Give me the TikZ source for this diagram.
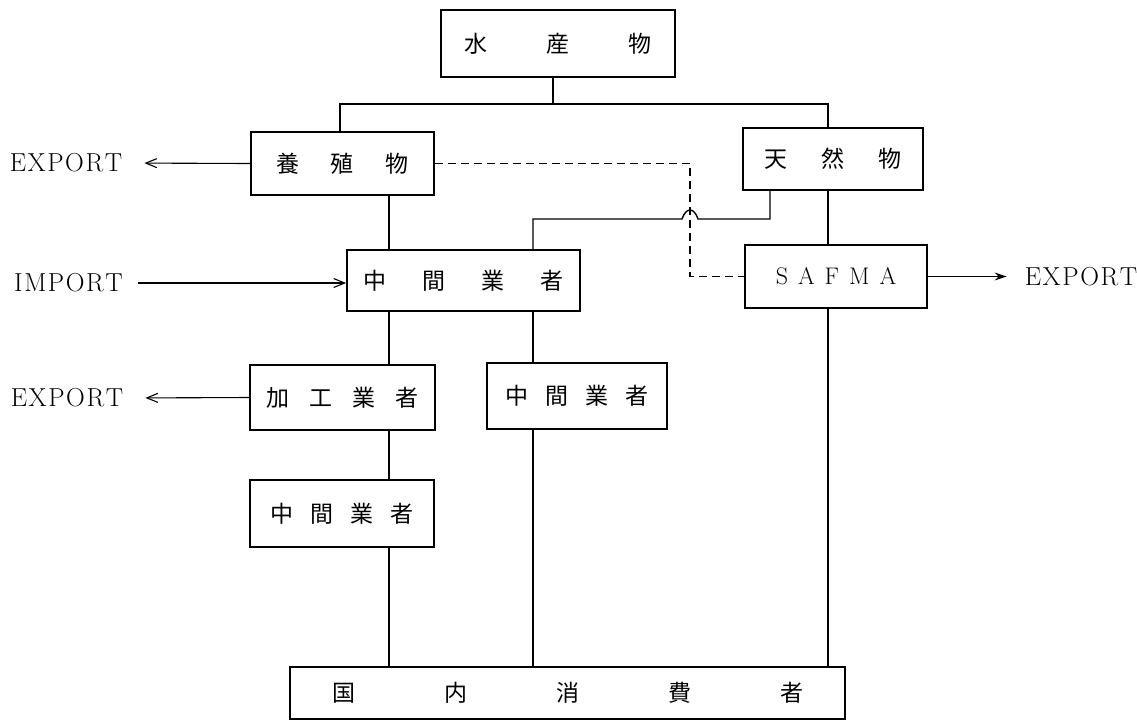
\documentclass[tikz,border=0pt]{standalone}
\usepackage{fontspec}
\newfontfamily\cjk{Noto Sans CJK JP}
\usetikzlibrary{arrows.meta}
\newcommand{\ks}{\kern1.6pt}
\begin{document}
\begin{tikzpicture}[x=1pt,y=-1pt,
  boxn/.style={draw,line width=1.8pt,inner sep=0pt,font=\cjk\fontsize{23}{26}\selectfont},
  lbl/.style={inner sep=0pt,font=\fontsize{26}{30}\selectfont},
  conn/.style={line width=1.4pt},
  dsh/.style={line width=1.3pt,dash pattern=on 8pt off 5pt},
  arrl/.style={line width=1.1pt,-{Straight Barb[length=11pt,width=9pt]}},
  arrr/.style={line width=1.1pt,-{Stealth[length=12pt,width=8pt]}}]
\useasboundingbox (0,0) rectangle (1137,721);
% boxes
\node[boxn,minimum width=234pt,minimum height=67pt] (sui) at (558,43.5) {水\hspace{59pt}産\hspace{59pt}物};
\node[boxn,minimum width=183pt,minimum height=63pt] (yo) at (342.5,163.5) {養\hspace{32pt}殖\hspace{32pt}物};
\node[boxn,minimum width=180pt,minimum height=62pt] (ten) at (833,159) {天\hspace{34pt}然\hspace{34pt}物};
\node[boxn,minimum width=233pt,minimum height=61pt] (chu1) at (463.5,280.5) {中\hspace{36pt}間\hspace{36pt}業\hspace{36pt}者};
\node[boxn,minimum width=182pt,minimum height=63pt,font=\fontsize{24}{28}\selectfont] (safma) at (836,276.5) {S\hspace{10pt}A\hspace{10pt}F\hspace{10pt}M\hspace{10pt}A};
\node[boxn,minimum width=185pt,minimum height=65pt] (kako) at (342.5,397.5) {加\hspace{20pt}工\hspace{20pt}業\hspace{20pt}者};
\node[boxn,minimum width=180pt,minimum height=66pt] (chu2) at (577,396) {中\hspace{17pt}間\hspace{17pt}業\hspace{17pt}者};
\node[boxn,minimum width=184pt,minimum height=67pt] (chu3) at (342,513.5) {中\hspace{17pt}間\hspace{17pt}業\hspace{17pt}者};
\node[boxn,minimum width=555pt,minimum height=52pt] (koku) at (567.5,693) {国\hspace{89pt}内\hspace{89pt}消\hspace{89pt}費\hspace{89pt}者};
% labels
\node[lbl] (ex1) at (66,163) {E\ks X\ks P\ks O\ks R\ks T};
\node[lbl] (imp) at (68.5,283) {I\ks M\ks P\ks O\ks R\ks T};
\node[lbl] (ex2) at (67,398) {E\ks X\ks P\ks O\ks R\ks T};
\node[lbl] (ex3) at (1081,277) {E\ks X\ks P\ks O\ks R\ks T};
% helper coordinates
\coordinate (bus) at (553,104);
\coordinate (busL) at (340,104);
\coordinate (busR) at (828,104);
\coordinate (xL) at (389,0);
\coordinate (xM) at (533,0);
\coordinate (xD) at (690,0);
\coordinate (jT) at (770,219);
\coordinate (hopR) at (698,219);
\coordinate (hopL) at (682,219);
\coordinate (jM) at (533,219);
% connectors
\draw[conn] (sui.south -| bus) -- (bus);
\draw[conn] (yo.north -| busL) -- (busL) -- (busR) -- (ten.north -| busR);
\draw[conn] (yo.south -| xL) -- (chu1.north -| xL);
\draw[conn] (chu1.south -| xL) -- (kako.north -| xL);
\draw[conn] (kako.south -| xL) -- (chu3.north -| xL);
\draw[conn] (chu3.south -| xL) -- (koku.north -| xL);
\draw[conn] (chu1.south -| xM) -- (chu2.north -| xM);
\draw[conn] (chu2.south -| xM) -- (koku.north -| xM);
\draw[conn] (ten.south -| busR) -- (safma.north -| busR);
\draw[conn] (safma.south -| busR) -- (koku.north -| busR);
\draw[conn] (ten.south -| jT) -- (jT) -- (hopR) .. controls (694,207) and (686,207) .. (hopL) -- (jM) -- (chu1.north -| jM);
\draw[dsh] (yo.east) -| (safma.west -| xD) -- (safma.west);
% arrows
\draw[arrl,shorten >=22pt] (yo.west) -- (ex1.east);
\draw[arrl,shorten <=15pt] (imp.east) -- (imp.east -| chu1.west);
\draw[arrl,shorten >=22pt] (kako.west) -- (ex2.east);
\draw[arrr,shorten >=18pt] (safma.east) -- (safma.east -| ex3.west);
\end{tikzpicture}
\end{document}
